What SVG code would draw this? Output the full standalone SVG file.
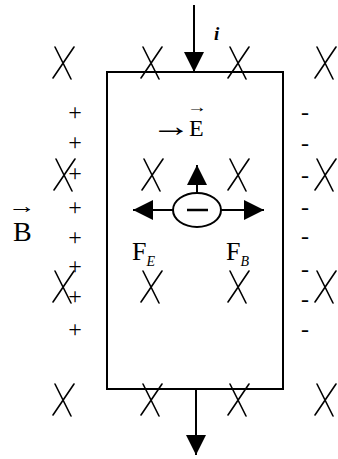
<svg xmlns="http://www.w3.org/2000/svg" xmlns:xlink="http://www.w3.org/1999/xlink" width="338" height="459" viewBox="0 0 338 459">
<style>
.ln{stroke:#000;stroke-width:2;fill:none}
.xm{stroke:#000;stroke-width:1.6;fill:none;stroke-linecap:round}
.t{font-family:"Liberation Serif","Times New Roman",serif;fill:#000}
.pm{font-family:"Liberation Serif","Times New Roman",serif;font-size:24px;fill:#000;text-anchor:middle}
</style>
<defs>
<path id="xmark" class="xm" d="M-8,-16 L8,16 M11,-16 L-10,15"/>
<marker id="ah" markerUnits="userSpaceOnUse" markerWidth="22" markerHeight="22" refX="20" refY="10" orient="auto">
<path d="M0,0 L20,10 L0,20 Z" fill="#000"/>
</marker>
</defs>
<rect width="338" height="459" fill="#fff"/>
<g id="field">
<use xlink:href="#xmark" x="63" y="63"/>
<use xlink:href="#xmark" x="151" y="63"/>
<use xlink:href="#xmark" x="238" y="63"/>
<use xlink:href="#xmark" x="325" y="63"/>
<use xlink:href="#xmark" x="64" y="175"/>
<use xlink:href="#xmark" x="152" y="175"/>
<use xlink:href="#xmark" x="238" y="175"/>
<use xlink:href="#xmark" x="325" y="175"/>
<use xlink:href="#xmark" x="63" y="287"/>
<use xlink:href="#xmark" x="151" y="287"/>
<use xlink:href="#xmark" x="238" y="287"/>
<use xlink:href="#xmark" x="325" y="287"/>
<use xlink:href="#xmark" x="63" y="400"/>
<use xlink:href="#xmark" x="151" y="400"/>
<use xlink:href="#xmark" x="238" y="400"/>
<use xlink:href="#xmark" x="325" y="400"/>
</g>
<g id="conductor">
<rect class="ln" x="107" y="72" width="176" height="317"/>
</g>
<g id="charges-plus">
<text class="pm" x="75" y="120">+</text>
<text class="pm" x="75" y="150">+</text>
<text class="pm" x="75" y="181">+</text>
<text class="pm" x="75" y="215">+</text>
<text class="pm" x="75" y="245">+</text>
<text class="pm" x="75" y="274">+</text>
<text class="pm" x="75" y="304">+</text>
<text class="pm" x="75" y="337">+</text>
</g>
<g id="charges-minus">
<text class="pm" x="305" y="120">-</text>
<text class="pm" x="305" y="151">-</text>
<text class="pm" x="305" y="183">-</text>
<text class="pm" x="305" y="215">-</text>
<text class="pm" x="305" y="244">-</text>
<text class="pm" x="305" y="277">-</text>
<text class="pm" x="305" y="307">-</text>
<text class="pm" x="305" y="337">-</text>
</g>
<g id="electron">
<ellipse class="ln" cx="197" cy="210" rx="24" ry="17"/>
<line x1="187" y1="210" x2="208" y2="210" stroke="#000" stroke-width="2.5"/>
</g>
<g id="connectors">
<line class="ln" x1="194" y1="5" x2="194" y2="72" marker-end="url(#ah)"/>
<line class="ln" x1="196" y1="389" x2="196" y2="455" marker-end="url(#ah)"/>
<line class="ln" x1="197" y1="193" x2="197" y2="165" marker-end="url(#ah)"/>
<line class="ln" x1="173" y1="210" x2="133" y2="210" marker-end="url(#ah)"/>
<line class="ln" x1="221" y1="210" x2="264" y2="210" marker-end="url(#ah)"/>
</g>
<g id="labels">
<text class="t" x="214" y="40" font-size="19" font-style="italic" font-weight="bold">i</text>
<text class="t" x="151" y="136" font-size="30" textLength="40" lengthAdjust="spacingAndGlyphs">→</text>
<text class="t" x="189" y="136" font-size="24">E</text>
<text class="t" x="187" y="112" font-size="15" textLength="20" lengthAdjust="spacingAndGlyphs">→</text>
<text class="t" x="13" y="241" font-size="28">B</text>
<text class="t" x="8" y="213" font-size="22" textLength="28" lengthAdjust="spacingAndGlyphs">→</text>
<text class="t" x="132" y="260" font-size="26">F<tspan font-size="14" font-style="italic" dy="6">E</tspan></text>
<text class="t" x="226" y="260" font-size="26">F<tspan font-size="14" font-style="italic" dy="6">B</tspan></text>
</g>
</svg>
